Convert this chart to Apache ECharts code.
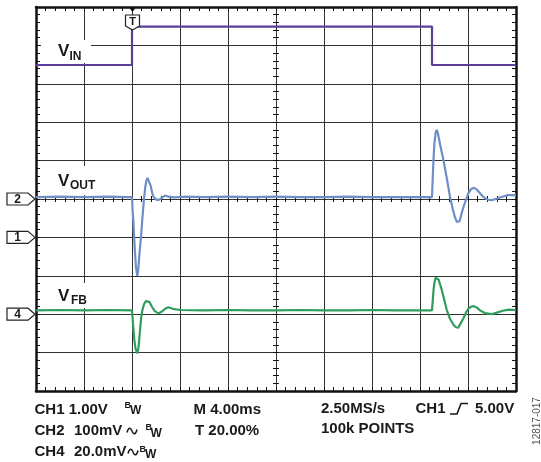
<!DOCTYPE html>
<html><head><meta charset="utf-8">
<script src="https://cdn.jsdelivr.net/npm/echarts@6/dist/echarts.min.js"></script>
<style>html,body{margin:0;padding:0;background:#fff}#c{width:541px;height:462px}</style>
</head><body><div id="c"></div>
<script>
// time axis in ms (4 ms/div, trigger at 20%), vertical axis in divisions
const timeMin = -8, timeMax = 32, timeStep = 4;
const divMin = -5, divMax = 5, divStep = 1;

// V_IN (CH1)
const vinT = [-8, 0, 0, 25, 25, 32];
const vinV = [3.49, 3.49, 4.49, 4.49, 3.49, 3.49];

// V_OUT (CH2)
const voutT = [-8, -6, -4, -2, -0.3, 0, 0.05, 0.11, 0.18, 0.25, 0.33, 0.44, 0.52, 0.6, 0.75, 0.88, 1.0, 1.1, 1.2, 1.3, 1.42, 1.55, 1.68, 1.8, 2.0, 2.19, 2.45, 2.75, 3.05, 3.5, 4.5, 6, 8, 10, 12, 14, 16, 18, 20, 22, 24, 25.0,
  25.05, 25.12, 25.2, 25.3, 25.39, 25.5, 25.7, 25.97, 26.2, 26.5, 26.72, 26.92, 27.08, 27.19, 27.3, 27.47, 27.68, 27.89, 28.05, 28.25, 28.5, 28.72, 28.92, 29.2, 29.42, 29.7, 29.97, 30.3, 30.67, 31.0, 31.33, 32];
const voutV = [0.05, 0.06, 0.05, 0.06, 0.05, 0.05, -0.3, -0.55, -1.0, -1.4, -1.78, -2.0, -1.85, -1.5, -0.98, -0.45, 0.0, 0.3, 0.48, 0.55, 0.5, 0.35, 0.16, 0.05, -0.01, -0.03, 0.02, 0.09, 0.06, 0.04, 0.06, 0.05, 0.06, 0.05, 0.06, 0.05, 0.05, 0.06, 0.05, 0.05, 0.05, 0.05,
  0.45, 1.0, 1.45, 1.72, 1.8, 1.7, 1.38, 0.99, 0.6, 0.06, -0.25, -0.48, -0.6, -0.64, -0.58, -0.37, -0.15, 0.03, 0.16, 0.26, 0.29, 0.25, 0.18, 0.08, 0.02, -0.02, -0.03, 0.0, 0.04, 0.07, 0.1, 0.1];

// V_FB (CH4)
const vfbT = [-8, -6, -4, -2, 0, 0.05, 0.12, 0.2, 0.3, 0.44, 0.55, 0.66, 0.76, 0.86, 1.0, 1.15, 1.3, 1.45, 1.65, 1.9, 2.19, 2.5, 2.8, 3.03, 3.4, 4, 6, 8, 10, 12, 14, 16, 18, 20, 22, 24, 25.0,
  25.05, 25.12, 25.2, 25.3, 25.39, 25.55, 25.8, 26.0, 26.22, 26.5, 26.8, 27.0, 27.19, 27.35, 27.6, 27.85, 28.05, 28.3, 28.5, 28.75, 29.0, 29.4, 29.97, 30.4, 30.9, 31.4, 32];
const vfbV = [-2.9, -2.89, -2.9, -2.89, -2.9, -3.1, -3.4, -3.68, -3.9, -4.02, -3.85, -3.45, -3.1, -2.9, -2.74, -2.66, -2.64, -2.68, -2.8, -2.92, -2.98, -2.93, -2.85, -2.82, -2.86, -2.89, -2.9, -2.89, -2.9, -2.9, -2.89, -2.9, -2.9, -2.89, -2.9, -2.9, -2.9,
  -2.7, -2.4, -2.18, -2.05, -2.02, -2.1, -2.35, -2.6, -2.88, -3.12, -3.28, -3.34, -3.35, -3.3, -3.12, -2.95, -2.85, -2.8, -2.79, -2.83, -2.9, -2.97, -3.0, -2.96, -2.91, -2.88, -2.89];

// channel ground markers (left edge) and trigger position
const markerLabels = ['2', '1', '4'];
const markerLevels = [0, -1, -3];
const triggerTimes = [0];

// readout texts
const readoutLeft = ['CH1 1.00V', 'CH2', 'CH4'];
const readoutScale = ['', '100mV', '20.0mV'];
const readoutTime = ['M 4.00ms', 'T 20.00%'];
const readoutAcq = ['2.50MS/s', '100k POINTS'];
const readoutTrig = ['CH1', '5.00V'];
const figureId = '12817-017';

const zip = (a, b) => a.map((t, i) => [t, b[i]]);
const FONT = '"Liberation Sans", Arial, "DejaVu Sans", sans-serif';
const TXT = '#1a1a1a';

function txt(x, y, text, size, opts) {
  opts = opts || {};
  return {
    type: 'text', x: x, y: y, z: 110, rotation: opts.rotation || 0, silent: true,
    style: {
      text: text, font: (opts.weight || 'bold') + ' ' + size + 'px ' + FONT,
      fill: opts.fill || TXT, align: opts.align || 'left', verticalAlign: 'middle'
    }
  };
}
function rect(x, y, w, h) {
  return { type: 'rect', z: 105, silent: true, shape: { x: x, y: y, width: w, height: h }, style: { fill: '#fff' } };
}
function wave(x, y) {
  const st = { stroke: TXT, lineWidth: 1.5, fill: null };
  return { type: 'group', x: x, y: y, silent: true, children: [
    { type: 'bezierCurve', z: 110, shape: { x1: 0, y1: 1.5, cpx1: 1.5, cpy1: -4, cpx2: 3.5, cpy2: -4, x2: 5, y2: 0 }, style: st },
    { type: 'bezierCurve', z: 110, shape: { x1: 5, y1: 0, cpx1: 6.5, cpy1: 4, cpx2: 8.5, cpy2: 4, x2: 10, y2: -1.5 }, style: st }
  ] };
}

const borderLine = { color: '#111', width: 2.5 };
const tickStyle = { color: '#111', width: 1 };
const gridLine = { color: '#333', width: 1 };

function xAx(extra) {
  return Object.assign({ type: 'value', min: timeMin, max: timeMax, interval: timeStep, axisLabel: { show: false }, splitLine: { show: false } }, extra);
}
function yAx(extra) {
  return Object.assign({ type: 'value', min: divMin, max: divMax, interval: divStep, axisLabel: { show: false }, splitLine: { show: false } }, extra);
}

const chart = echarts.init(document.getElementById('c'), null, { renderer: 'canvas' });
const option = {
  animation: false,
  backgroundColor: '#fff',
  grid: { left: 36, top: 7, right: 25, bottom: 71, outerBoundsMode: 'none' },
  xAxis: [
    xAx({ position: 'bottom', axisLine: { onZero: false, lineStyle: borderLine }, axisTick: { show: true, inside: true, length: 4, lineStyle: tickStyle }, minorTick: { show: true, splitNumber: 5, length: 4, lineStyle: tickStyle }, splitLine: { show: true, lineStyle: gridLine } }),
    xAx({ position: 'top', axisLine: { onZero: false, lineStyle: borderLine }, axisTick: { show: true, inside: true, length: 4, lineStyle: tickStyle }, minorTick: { show: true, splitNumber: 5, length: 4, lineStyle: tickStyle } }),
    xAx({ position: 'bottom', axisLine: { show: false, onZero: true, onZeroAxisIndex: 0 }, axisTick: { show: true, inside: true, length: 3, lineStyle: tickStyle }, minorTick: { show: true, splitNumber: 5, length: 3, lineStyle: tickStyle } }),
    xAx({ position: 'bottom', axisLine: { show: false, onZero: true, onZeroAxisIndex: 0 }, axisTick: { show: true, inside: false, length: 3, lineStyle: tickStyle }, minorTick: { show: true, splitNumber: 5, length: 3, lineStyle: tickStyle } })
  ],
  yAxis: [
    yAx({ position: 'left', axisLine: { show: true, onZero: false, lineStyle: borderLine }, axisTick: { show: true, inside: true, length: 4, lineStyle: tickStyle }, minorTick: { show: true, splitNumber: 5, length: 4, lineStyle: tickStyle }, splitLine: { show: true, lineStyle: gridLine } }),
    yAx({ position: 'right', axisLine: { show: true, onZero: false, lineStyle: borderLine }, axisTick: { show: true, inside: true, length: 4, lineStyle: tickStyle }, minorTick: { show: true, splitNumber: 5, length: 4, lineStyle: tickStyle } }),
    yAx({ position: 'left', offset: -240, axisLine: { show: false, onZero: false }, axisTick: { show: true, inside: true, length: 3, lineStyle: tickStyle }, minorTick: { show: true, splitNumber: 5, length: 3, lineStyle: tickStyle } }),
    yAx({ position: 'left', offset: -240, axisLine: { show: false, onZero: false }, axisTick: { show: true, inside: false, length: 3, lineStyle: tickStyle }, minorTick: { show: true, splitNumber: 5, length: 3, lineStyle: tickStyle } })
  ],
  series: [
    { name: 'VIN', type: 'line', data: zip(vinT, vinV), showSymbol: false, z: 5, lineStyle: { color: '#5b3e98', width: 2.2 }, itemStyle: { color: '#5b3e98' } },
    { name: 'VOUT', type: 'line', data: zip(voutT, voutV), showSymbol: false, z: 5, lineStyle: { color: '#6e8fc6', width: 2.2 }, itemStyle: { color: '#6e8fc6' } },
    { name: 'VFB', type: 'line', data: zip(vfbT, vfbV), showSymbol: false, z: 5, lineStyle: { color: '#2f9d5d', width: 2.2 }, itemStyle: { color: '#2f9d5d' } },
    {
      name: 'markers', type: 'custom', clip: false, silent: true, z: 20,
      data: markerLevels.map(l => [timeMin, l]),
      renderItem: function (params, api) {
        const p = api.coord([api.value(0), api.value(1)]);
        const tip = p[0] - 1, y = p[1];
        return {
          type: 'group', children: [
            { type: 'polygon', shape: { points: [[tip - 28, y - 6], [tip - 7, y - 6], [tip, y], [tip - 7, y + 6], [tip - 28, y + 6]] }, style: { fill: '#fff', stroke: '#222', lineWidth: 1.2 } },
            { type: 'text', style: { text: markerLabels[params.dataIndex], x: tip - 17.5, y: y + 0.5, font: 'bold 12px ' + FONT, fill: TXT, align: 'center', verticalAlign: 'middle' } }
          ]
        };
      }
    },
    {
      name: 'trigger', type: 'custom', clip: false, silent: true, z: 20,
      data: triggerTimes.map(t => [t, divMax]),
      renderItem: function (params, api) {
        const p = api.coord([api.value(0), api.value(1)]);
        const x = p[0] + 0.5, y = p[1];
        return {
          type: 'group', children: [
            { type: 'polygon', shape: { points: [[x - 3, y + 1], [x + 3, y + 1], [x, y + 5]] }, style: { fill: '#111' } },
            { type: 'polygon', shape: { points: [[x - 7, y + 8], [x + 7, y + 8], [x + 7, y + 19], [x, y + 23], [x - 7, y + 19]] }, style: { fill: '#fff', stroke: '#222', lineWidth: 1.2 } },
            { type: 'text', style: { text: 'T', x: x, y: y + 14.5, font: 'bold 11px ' + FONT, fill: TXT, align: 'center', verticalAlign: 'middle' } }
          ]
        };
      }
    }
  ],
  graphic: [
    rect(41, 40, 50, 23), rect(41, 166, 60, 29), rect(41, 283, 50, 25),
    txt(58, 51.5, 'V', 17), txt(69.5, 56.5, 'IN', 12),
    txt(58, 181, 'V', 17), txt(70, 185.5, 'OUT', 12),
    txt(58, 296.5, 'V', 17), txt(71, 300.5, 'FB', 12),

    txt(34.5, 409.5, readoutLeft[0], 15),
    txt(124.5, 405.5, 'B', 9), txt(130, 411, 'W', 12),
    txt(34.5, 431, readoutLeft[1], 15), txt(74, 431, readoutScale[1], 15),
    wave(127, 431), txt(145.5, 428, 'B', 9), txt(150.5, 433.5, 'W', 12),
    txt(34.5, 452, readoutLeft[2], 15), txt(74, 452, readoutScale[2], 15),
    wave(128, 452), txt(139.5, 449.5, 'B', 9), txt(145, 455, 'W', 12),

    txt(193.5, 409.5, readoutTime[0], 15), txt(195, 431, readoutTime[1], 15),
    txt(321, 408.5, readoutAcq[0], 15), txt(321, 428.5, readoutAcq[1], 15),
    txt(415.5, 408.5, readoutTrig[0], 15), txt(475, 408.5, readoutTrig[1], 15),
    { type: 'polyline', z: 110, silent: true, shape: { points: [[450, 414], [457, 414], [461, 403.5], [468, 403.5]] }, style: { stroke: TXT, lineWidth: 1.6, fill: null } },
    txt(537, 421, figureId, 10, { weight: 'normal', fill: '#555', align: 'center', rotation: Math.PI / 2 })
  ]
};
chart.setOption(option);
</script>
</body></html>
